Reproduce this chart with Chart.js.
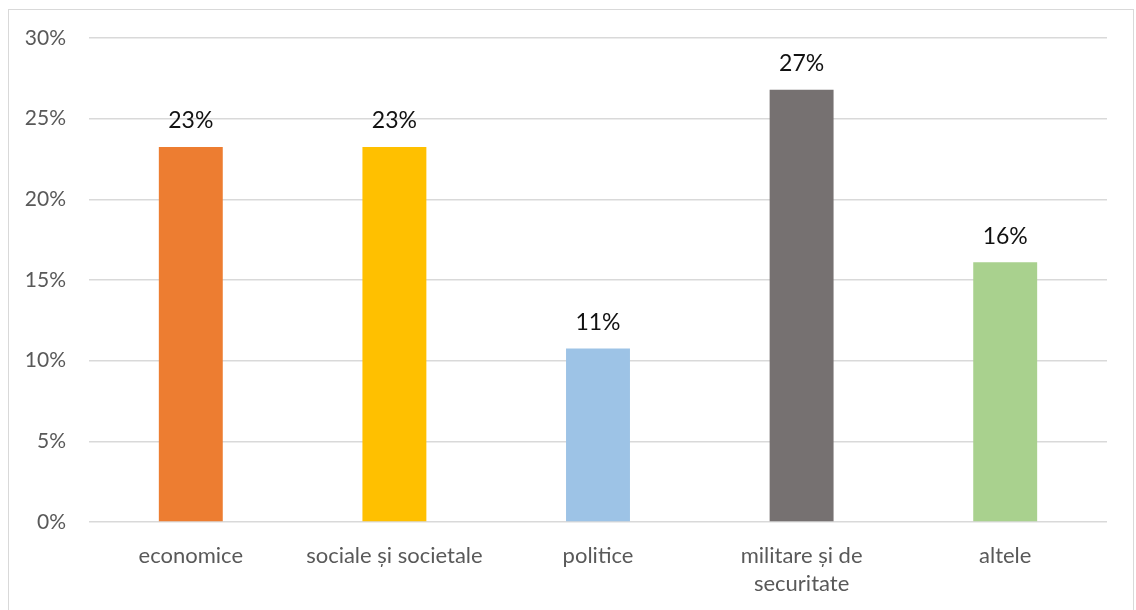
<!DOCTYPE html>
<html>
<head>
<meta charset="utf-8">
<script src="https://cdn.jsdelivr.net/npm/chart.js@4/dist/chart.umd.min.js"></script>
<style>
    body { margin: 0; background: #fff; }
    #wrap { position: absolute; left: 0; top: 0; width: 1136px; height: 610px; }
    #frame { position: absolute; left: 8px; top: 9px; width: 1124px; height: 620px; border: 1.5px solid #d9d9d9; pointer-events: none; }
</style>
</head>
<body>
<div id="wrap">
    <canvas id="wtkChart" width="1136" height="610"></canvas>
    <div id="frame"></div>
</div>
<script>
var chartLabels = ['economice', 'sociale și societale', 'politice', ['militare și de', 'securitate'], 'altele'];
var chartValues = [23.25, 23.25, 10.75, 26.8, 16.1];
var chartColors = ['#ED7D31', '#FFC000', '#9DC3E6', '#767171', '#A9D18E'];
var yTicks = [0, 5, 10, 15, 20, 25, 30];

var gloFont = 'Lato, "Open Sans", sans-serif';

// value labels above each bar
var barValueLabels = {
    id: 'barValueLabels',
    afterDatasetsDraw: function (chart) {
        let ctx = chart.ctx;
        let meta = chart.getDatasetMeta(0);
        ctx.save();
        ctx.font = '23px ' + gloFont;
        ctx.fillStyle = '#111';
        ctx.textAlign = 'center';
        ctx.textBaseline = 'middle';
        meta.data.forEach(function (bar, i) {
            ctx.fillText(Math.round(chartValues[i]) + '%', bar.x, bar.y - 26);
        });
        ctx.restore();
    }
};

var ctx = document.getElementById('wtkChart').getContext('2d');
var wtkChart = new Chart(ctx, {
    type: 'bar',
    data: {
        labels: chartLabels,
        datasets: [{
            data: chartValues,
            backgroundColor: chartColors,
            borderWidth: 0,
            categoryPercentage: 1,
            barPercentage: 0.314
        }]
    },
    options: {
        responsive: false,
        animation: false,
        layout: { padding: { top: 38, right: 29, left: 0, bottom: 0 } },
        plugins: { legend: { display: false }, tooltip: { enabled: false } },
        scales: {
            x: {
                grid: { display: false },
                border: { display: false },
                ticks: {
                    color: '#595959',
                    font: { family: gloFont, size: 22, lineHeight: 1.27 },
                    padding: 12,
                    maxRotation: 0,
                    autoSkip: false
                },
                afterFit: function (scale) { scale.height = 88; }
            },
            y: {
                min: 0,
                max: 30,
                afterBuildTicks: function (scale) {
                    scale.ticks = yTicks.map(function (v) { return { value: v }; });
                },
                grid: { color: '#d9d9d9', lineWidth: 1.5, drawTicks: false },
                border: { display: false },
                ticks: {
                    color: '#595959',
                    font: { family: gloFont, size: 21 },
                    padding: 23,
                    callback: function (v) { return v + '%'; }
                },
                afterFit: function (scale) { scale.width = 89; }
            }
        }
    },
    plugins: [barValueLabels]
});
</script>
</body>
</html>
